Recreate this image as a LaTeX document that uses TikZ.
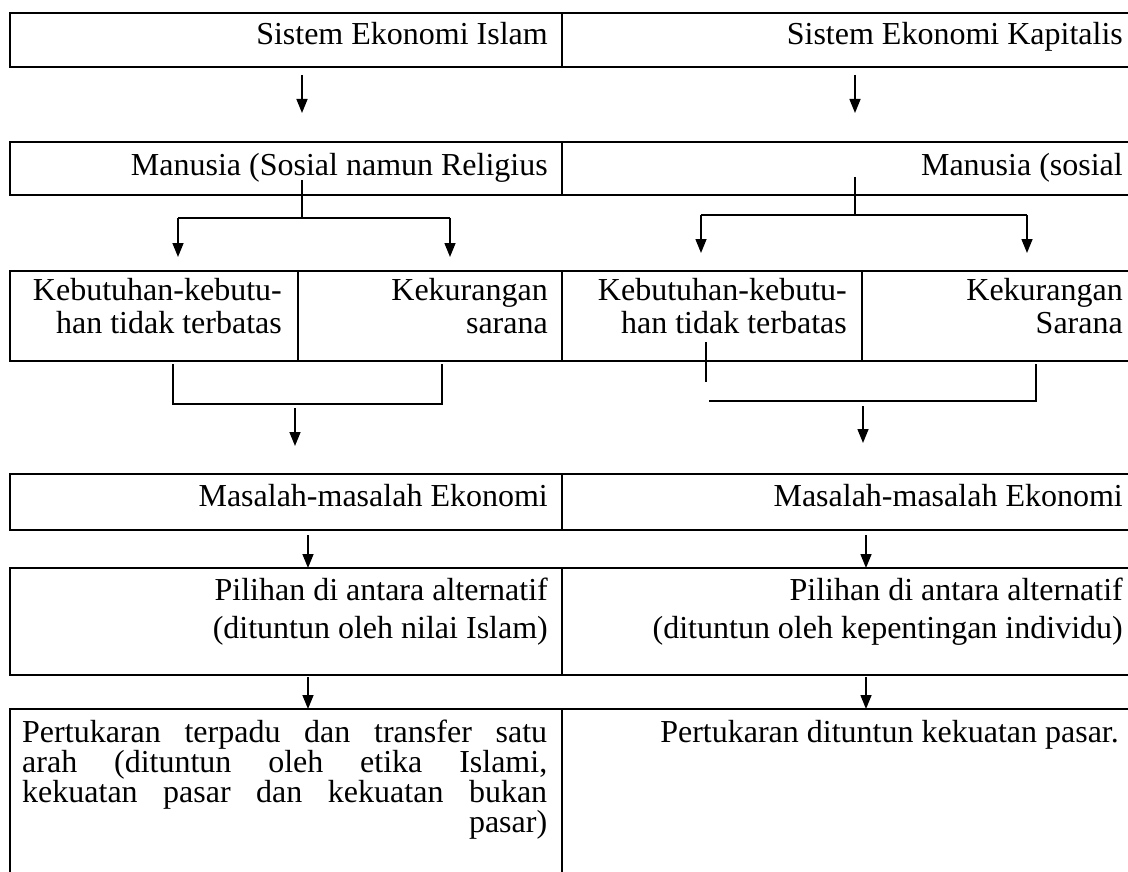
\documentclass[tikz,border=0pt]{standalone}
\usepackage{fontspec}
\setmainfont{Liberation Serif}
\usetikzlibrary{arrows.meta}
\tikzset{cell/.style={draw=black, line width=2.4pt, rectangle, anchor=north west, inner sep=0pt, outer sep=0pt}}
\tikzset{txt/.style={anchor=base east, inner sep=0pt, align=right, font=\fontsize{32}{33}\selectfont}}
\tikzset{arr/.style={-{Triangle[length=14pt,width=11pt]}, line width=1.5pt}}
\tikzset{link/.style={line width=1.8pt}}
\tikzset{stem/.style={line width=1.2pt}}

\begin{document}
\begin{tikzpicture}[x=1pt,y=-1pt]
    \useasboundingbox (0,0) rectangle (1128,872);
    \clip (0,0) rectangle (1128,872);
    % boxes, row by row
    \node[cell, minimum width=552pt, minimum height=54pt] (sysL) at (10,13) {};
    \node[cell, minimum width=578pt, minimum height=54pt] (sysR) at (562,13) {};
    \node[cell, minimum width=552pt, minimum height=53pt] (manL) at (10,142) {};
    \node[cell, minimum width=578pt, minimum height=53pt] (manR) at (562,142) {};
    \node[cell, minimum width=288pt, minimum height=90pt] (needL) at (10,271) {};
    \node[cell, minimum width=264pt, minimum height=90pt] (lackL) at (298,271) {};
    \node[cell, minimum width=300pt, minimum height=90pt] (needR) at (562,271) {};
    \node[cell, minimum width=278pt, minimum height=90pt] (lackR) at (862,271) {};
    \node[cell, minimum width=552pt, minimum height=56pt] (probL) at (10,474) {};
    \node[cell, minimum width=578pt, minimum height=56pt] (probR) at (562,474) {};
    \node[cell, minimum width=552pt, minimum height=107pt] (choiceL) at (10,568) {};
    \node[cell, minimum width=578pt, minimum height=107pt] (choiceR) at (562,568) {};
    \node[cell, minimum width=552pt, minimum height=181pt] (tradeL) at (10,709) {};
    \node[cell, minimum width=578pt, minimum height=181pt] (tradeR) at (562,709) {};
    % texts (multi-line ones sit on their last line)
    \node[txt] (sysLt) at (548,45) {Sistem Ekonomi Islam};
    \node[txt] (sysRt) at (1123,45) {Sistem Ekonomi Kapitalis};
    \node[txt] (manLt) at (548,176) {Manusia (Sosial namun Religius};
    \node[txt] (manRt) at (1123,176) {Manusia (sosial};
    \node[txt] (needLt) at (282,333) {Kebutuhan-kebutu-\\han tidak terbatas};
    \node[txt] (lackLt) at (548,333) {Kekurangan\\sarana};
    \node[txt] (needRt) at (847,333) {Kebutuhan-kebutu-\\han tidak terbatas};
    \node[txt] (lackRt) at (1123,333) {Kekurangan\\Sarana};
    \node[txt] (probLt) at (548,506) {Masalah-masalah Ekonomi};
    \node[txt] (probRt) at (1123,506) {Masalah-masalah Ekonomi};
    \node[txt, font=\fontsize{32}{38}\selectfont] (choiceLt) at (548,638) {Pilihan di antara alternatif\\(dituntun oleh nilai Islam)};
    \node[txt, font=\fontsize{32}{38}\selectfont] (choiceRt) at (1123,638) {Pilihan di antara alternatif\\(dituntun oleh kepentingan individu)};
    \node[txt, anchor=base west, align=left, font=\fontsize{32}{30}\selectfont] (tradeLt) at (22,832)
        {\makebox[525pt][s]{Pertukaran terpadu dan transfer satu}\\
         \makebox[525pt][s]{arah (dituntun oleh etika Islami,}\\
         \makebox[525pt][s]{kekuatan pasar dan kekuatan bukan}\\
         \makebox[525pt][r]{pasar)}};
    \node[txt] (tradeRt) at (1119,742) {Pertukaran dituntun kekuatan pasar.};
    % connector points
    \coordinate (sysLa) at (302,75);   \coordinate (manLa) at (302,113);
    \coordinate (sysRa) at (855,75);   \coordinate (manRa) at (855,113);
    \coordinate (manLs) at (302,180);  \coordinate (manLj) at (302,218);
    \coordinate (forkL1) at (178,218); \coordinate (forkL2) at (450,218);
    \coordinate (needLa) at (178,257); \coordinate (lackLa) at (450,257);
    \coordinate (manRs) at (855,177);  \coordinate (manRj) at (855,215);
    \coordinate (forkR1) at (701,215); \coordinate (forkR2) at (1027,215);
    \coordinate (needRa) at (701,253); \coordinate (lackRa) at (1027,253);
    \coordinate (joinL1) at (173,364); \coordinate (joinL2) at (173,404);
    \coordinate (joinL3) at (442,404); \coordinate (joinL4) at (442,364);
    \coordinate (probLs) at (295,408); \coordinate (probLa) at (295,446);
    \coordinate (joinR1) at (706,342); \coordinate (joinR2) at (706,382);
    \coordinate (joinR3) at (709,401); \coordinate (joinR4) at (1036,401);
    \coordinate (joinR5) at (1036,364);
    \coordinate (probRs) at (863,406); \coordinate (probRa) at (863,443);
    \coordinate (choiceLs) at (308,535); \coordinate (choiceRs) at (866,535);
    \coordinate (tradeLs) at (308,677);  \coordinate (tradeRs) at (866,677);
    % connectors
    \draw [arr] (sysLa) -- (manLa);
    \draw [arr] (sysRa) -- (manRa);
    \draw [stem] (manLs) -- (manLj);
    \draw [link] (forkL1) -- (forkL2);
    \draw [arr] (forkL1) -- (needLa);
    \draw [arr] (forkL2) -- (lackLa);
    \draw [stem] (manRs) -- (manRj);
    \draw [link] (forkR1) -- (forkR2);
    \draw [arr] (forkR1) -- (needRa);
    \draw [arr] (forkR2) -- (lackRa);
    \draw [link] (joinL1) -- (joinL2) -- (joinL3) -- (joinL4);
    \draw [arr] (probLs) -- (probLa);
    \draw [stem] (joinR1) -- (joinR2);
    \draw [link] (joinR3) -- (joinR4) -- (joinR5);
    \draw [arr] (probRs) -- (probRa);
    \draw [arr] (choiceLs) -- (choiceLs |- choiceL.north);
    \draw [arr] (choiceRs) -- (choiceRs |- choiceR.north);
    \draw [arr] (tradeLs) -- (tradeLs |- tradeL.north);
    \draw [arr] (tradeRs) -- (tradeRs |- tradeR.north);
\end{tikzpicture}
\end{document}
